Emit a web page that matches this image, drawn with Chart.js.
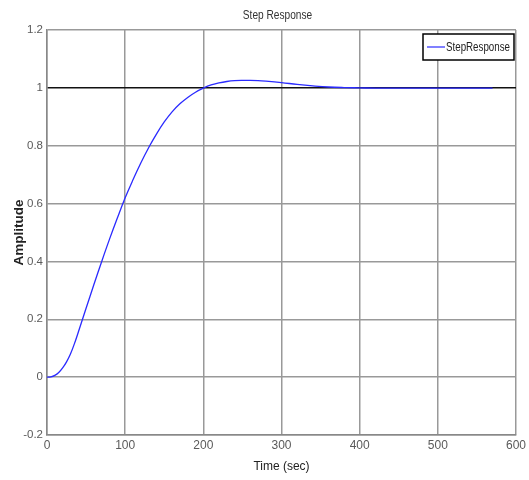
<!DOCTYPE html>
<html>
<head>
<meta charset="utf-8">
<script src="https://cdn.jsdelivr.net/npm/chart.js@4.4.1/dist/chart.umd.min.js"></script>
<style>
  html, body { margin: 0; padding: 0; background: #fff; }
  #wrap { width: 529px; height: 480px; }
</style>
</head>
<body>
<div id="wrap"><canvas id="step"></canvas></div>
<script>
// values
const times = [0, 5, 10, 15, 20, 25, 30, 35, 40, 50, 60, 70, 80, 90, 100, 110, 120, 130, 140, 150, 160, 170, 180, 190,
  200, 210, 220, 230, 240, 250, 260, 270, 280, 300, 320, 340, 360, 380, 400, 420, 450, 500, 550, 570];
const amplitude = [0, 0.001, 0.006, 0.016, 0.032, 0.053, 0.08, 0.115, 0.155, 0.238, 0.32, 0.40, 0.477, 0.55, 0.62,
  0.682, 0.74, 0.793, 0.84, 0.882, 0.917, 0.945, 0.967, 0.985, 0.999, 1.01, 1.017, 1.022, 1.025, 1.026,
  1.026, 1.025, 1.023, 1.018, 1.012, 1.007, 1.003, 1.001, 1.0, 0.999, 0.999, 0.999, 0.999, 0.999];
const xTicks = [0, 100, 200, 300, 400, 500, 600];
const yTicks = [-0.2, 0, 0.2, 0.4, 0.6, 0.8, 1, 1.2];
const seriesName = 'StepResponse';

const SANS = '"Liberation Sans", Arial, sans-serif';

// squeezed text, the original uses a narrow face
function narrowText(ctx, text, x, y, squeeze) {
  ctx.save();
  ctx.translate(x, y);
  ctx.scale(squeeze, 1);
  ctx.fillText(text, 0, 0);
  ctx.restore();
}

// title + legend box drawn on the canvas
const overlay = {
  id: 'overlay',
  afterDraw(chart) {
    const { ctx, chartArea: a } = chart;
    ctx.save();
    ctx.fillStyle = '#333';
    ctx.font = '13px ' + SANS;
    ctx.textAlign = 'center';
    ctx.textBaseline = 'middle';
    narrowText(ctx, 'Step Response', (a.left + a.right) / 2 - 4, 15, 0.78);

    // legend
    const ds = chart.data.datasets[0];
    const bx = 423, by = 34, bw = 91, bh = 26;
    ctx.fillStyle = '#fff';
    ctx.fillRect(bx, by, bw, bh);
    ctx.strokeStyle = '#000';
    ctx.lineWidth = 1.5;
    ctx.strokeRect(bx, by, bw, bh);
    ctx.strokeStyle = ds.borderColor;
    ctx.lineWidth = 1.2;
    ctx.beginPath();
    ctx.moveTo(bx + 4, by + bh / 2);
    ctx.lineTo(bx + 22, by + bh / 2);
    ctx.stroke();
    ctx.fillStyle = '#222';
    ctx.textAlign = 'left';
    ctx.font = '13px ' + SANS;
    narrowText(ctx, ds.label, bx + 23, by + bh / 2, 0.75);
    ctx.restore();
  }
};

const ctx = document.getElementById('step');

const stepChart = new Chart(ctx, {
  type: 'line',
  data: {
    datasets: [{
      label: seriesName,
      data: times.map((t, i) => ({ x: t, y: amplitude[i] })),
      borderColor: '#2a2aff',
      borderWidth: 1.3,
      pointRadius: 0,
      tension: 0.4,
      fill: false,
    }],
  },
  options: {
    responsive: true,
    maintainAspectRatio: false,
    animation: false,
    layout: { padding: { left: 0, right: 13, top: 30, bottom: 0 } },
    plugins: {
      legend: { display: false },
      title: { display: false },
      tooltip: { enabled: false },
    },
    scales: {
      x: {
        type: 'linear',
        min: 0,
        max: 600,
        afterFit: s => { s.height = 45; },
        afterBuildTicks: s => { s.ticks = xTicks.map(v => ({ value: v })); },
        grid: {
          color: '#999',
          lineWidth: 1.5,
          drawTicks: false,
        },
        border: { color: '#888', width: 1.5 },
        ticks: {
          color: '#5a5a5a',
          padding: 3,
          maxRotation: 0,
          font: { family: SANS, size: 12 },
        },
        title: {
          display: true,
          text: 'Time (sec)',
          color: '#222',
          font: { family: SANS, size: 12 },
          padding: { top: 0, bottom: 6 },
        },
      },
      y: {
        type: 'linear',
        min: -0.2,
        max: 1.2,
        afterFit: s => { s.width = 47; },
        afterBuildTicks: s => { s.ticks = yTicks.map(v => ({ value: v })); },
        grid: {
          color: c => (c.tick && Math.abs(c.tick.value - 1) < 1e-9 ? '#111' : '#999'),
          lineWidth: 1.5,
          drawTicks: false,
        },
        border: { color: '#888', width: 1.5 },
        ticks: {
          color: '#5a5a5a',
          padding: 4,
          font: { family: SANS, size: 11.5 },
          callback: v => String(Math.round(v * 10) / 10),
        },
        title: {
          display: true,
          text: 'Amplitude',
          color: '#222',
          font: { family: SANS, size: 13.5, weight: 'bold' },
          padding: { top: 11, bottom: 0 },
        },
      },
    },
  },
  plugins: [overlay],
});
</script>
</body>
</html>
